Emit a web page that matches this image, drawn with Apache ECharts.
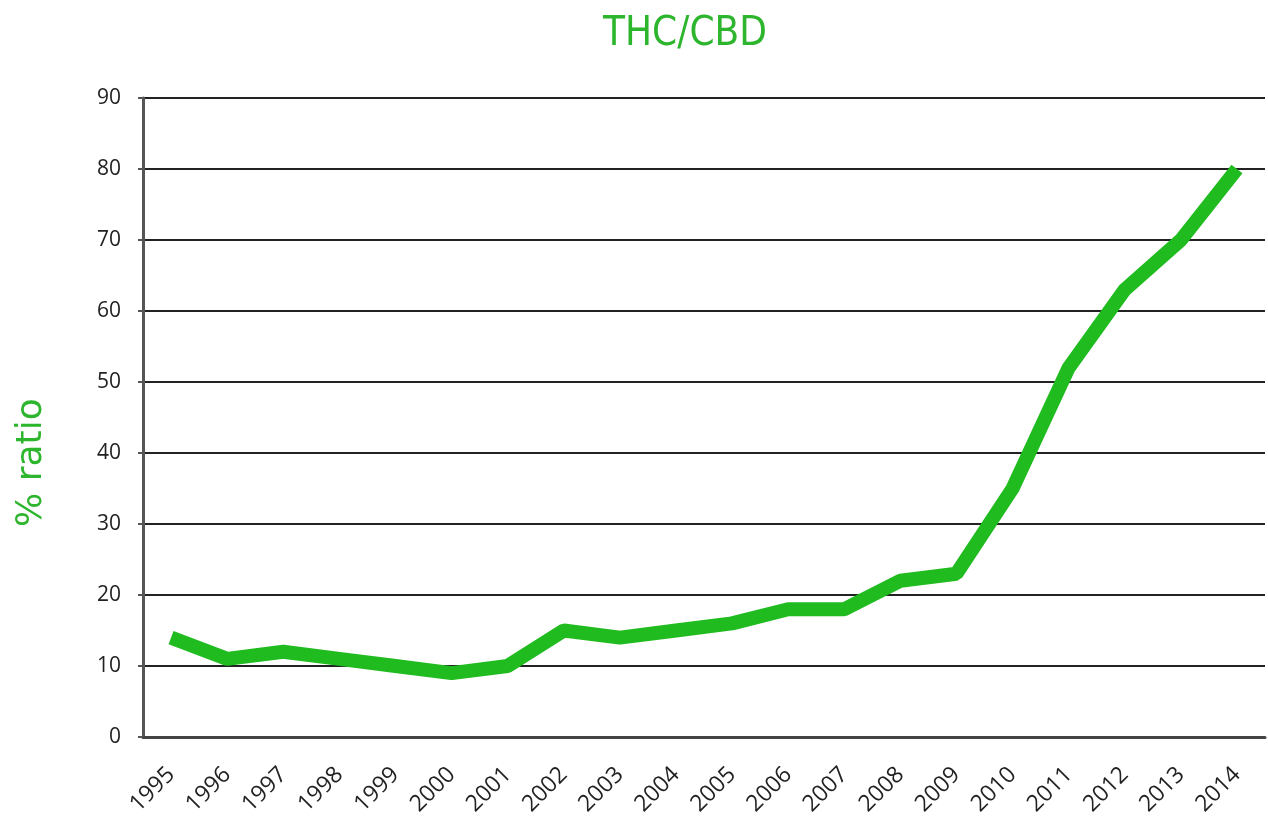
<!DOCTYPE html>
<html><head><meta charset="utf-8">
<script src="https://cdn.jsdelivr.net/npm/echarts@6/dist/echarts.min.js"></script>
<style>html,body{margin:0;padding:0;background:#fff}#c{width:1268px;height:819px}</style>
</head><body><div id="c"></div>
<script>
const years = ['1995','1996','1997','1998','1999','2000','2001','2002','2003','2004','2005','2006','2007','2008','2009','2010','2011','2012','2013','2014'];
const ratio = [14,11,12,11,10,9,10,15,14,15,16,18,18,22,23,35,52,63,70,80];
const yName = '% ratio';
const chart = echarts.init(document.getElementById('c'));
chart.setOption({
  animation:false,
  backgroundColor:'#fff',
  title:{text:'THC/CBD',left:680,textAlign:'center',top:10,textStyle:{color:'#2db52d',fontSize:40,fontWeight:'normal',fontFamily:'DejaVu Sans Condensed, Liberation Sans Narrow, sans-serif'}},
  grid:{left:143,right:3,top:98,bottom:82},
  graphic:[{type:'text',x:14,y:527,rotation:Math.PI/2,
    style:{text:yName,fill:'#2db52d',fontSize:36,fontFamily:'DejaVu Sans, sans-serif',textAlign:'left',textVerticalAlign:'top'}}],
  xAxis:{type:'category',data:years,boundaryGap:true,
    axisLine:{lineStyle:{color:'#444',width:3}},axisTick:{show:false},
    axisLabel:{rotate:45,color:'#222',fontSize:23,fontFamily:'Open Sans, sans-serif',margin:34,interval:0}},
  yAxis:{type:'value',min:0,max:90,interval:10,
    axisLine:{show:true,lineStyle:{color:'#555',width:3}},
    axisTick:{show:true,length:5,lineStyle:{color:'#555',width:2}},
    axisLabel:{color:'#222',fontSize:21,fontFamily:'Open Sans, sans-serif',margin:22},
    splitLine:{lineStyle:{color:'#222',width:2}}},
  series:[{type:'line',data:ratio,symbol:'none',lineStyle:{color:'#1fbb1f',width:14},itemStyle:{color:'#1fbb1f'}}]
});
</script></body></html>
